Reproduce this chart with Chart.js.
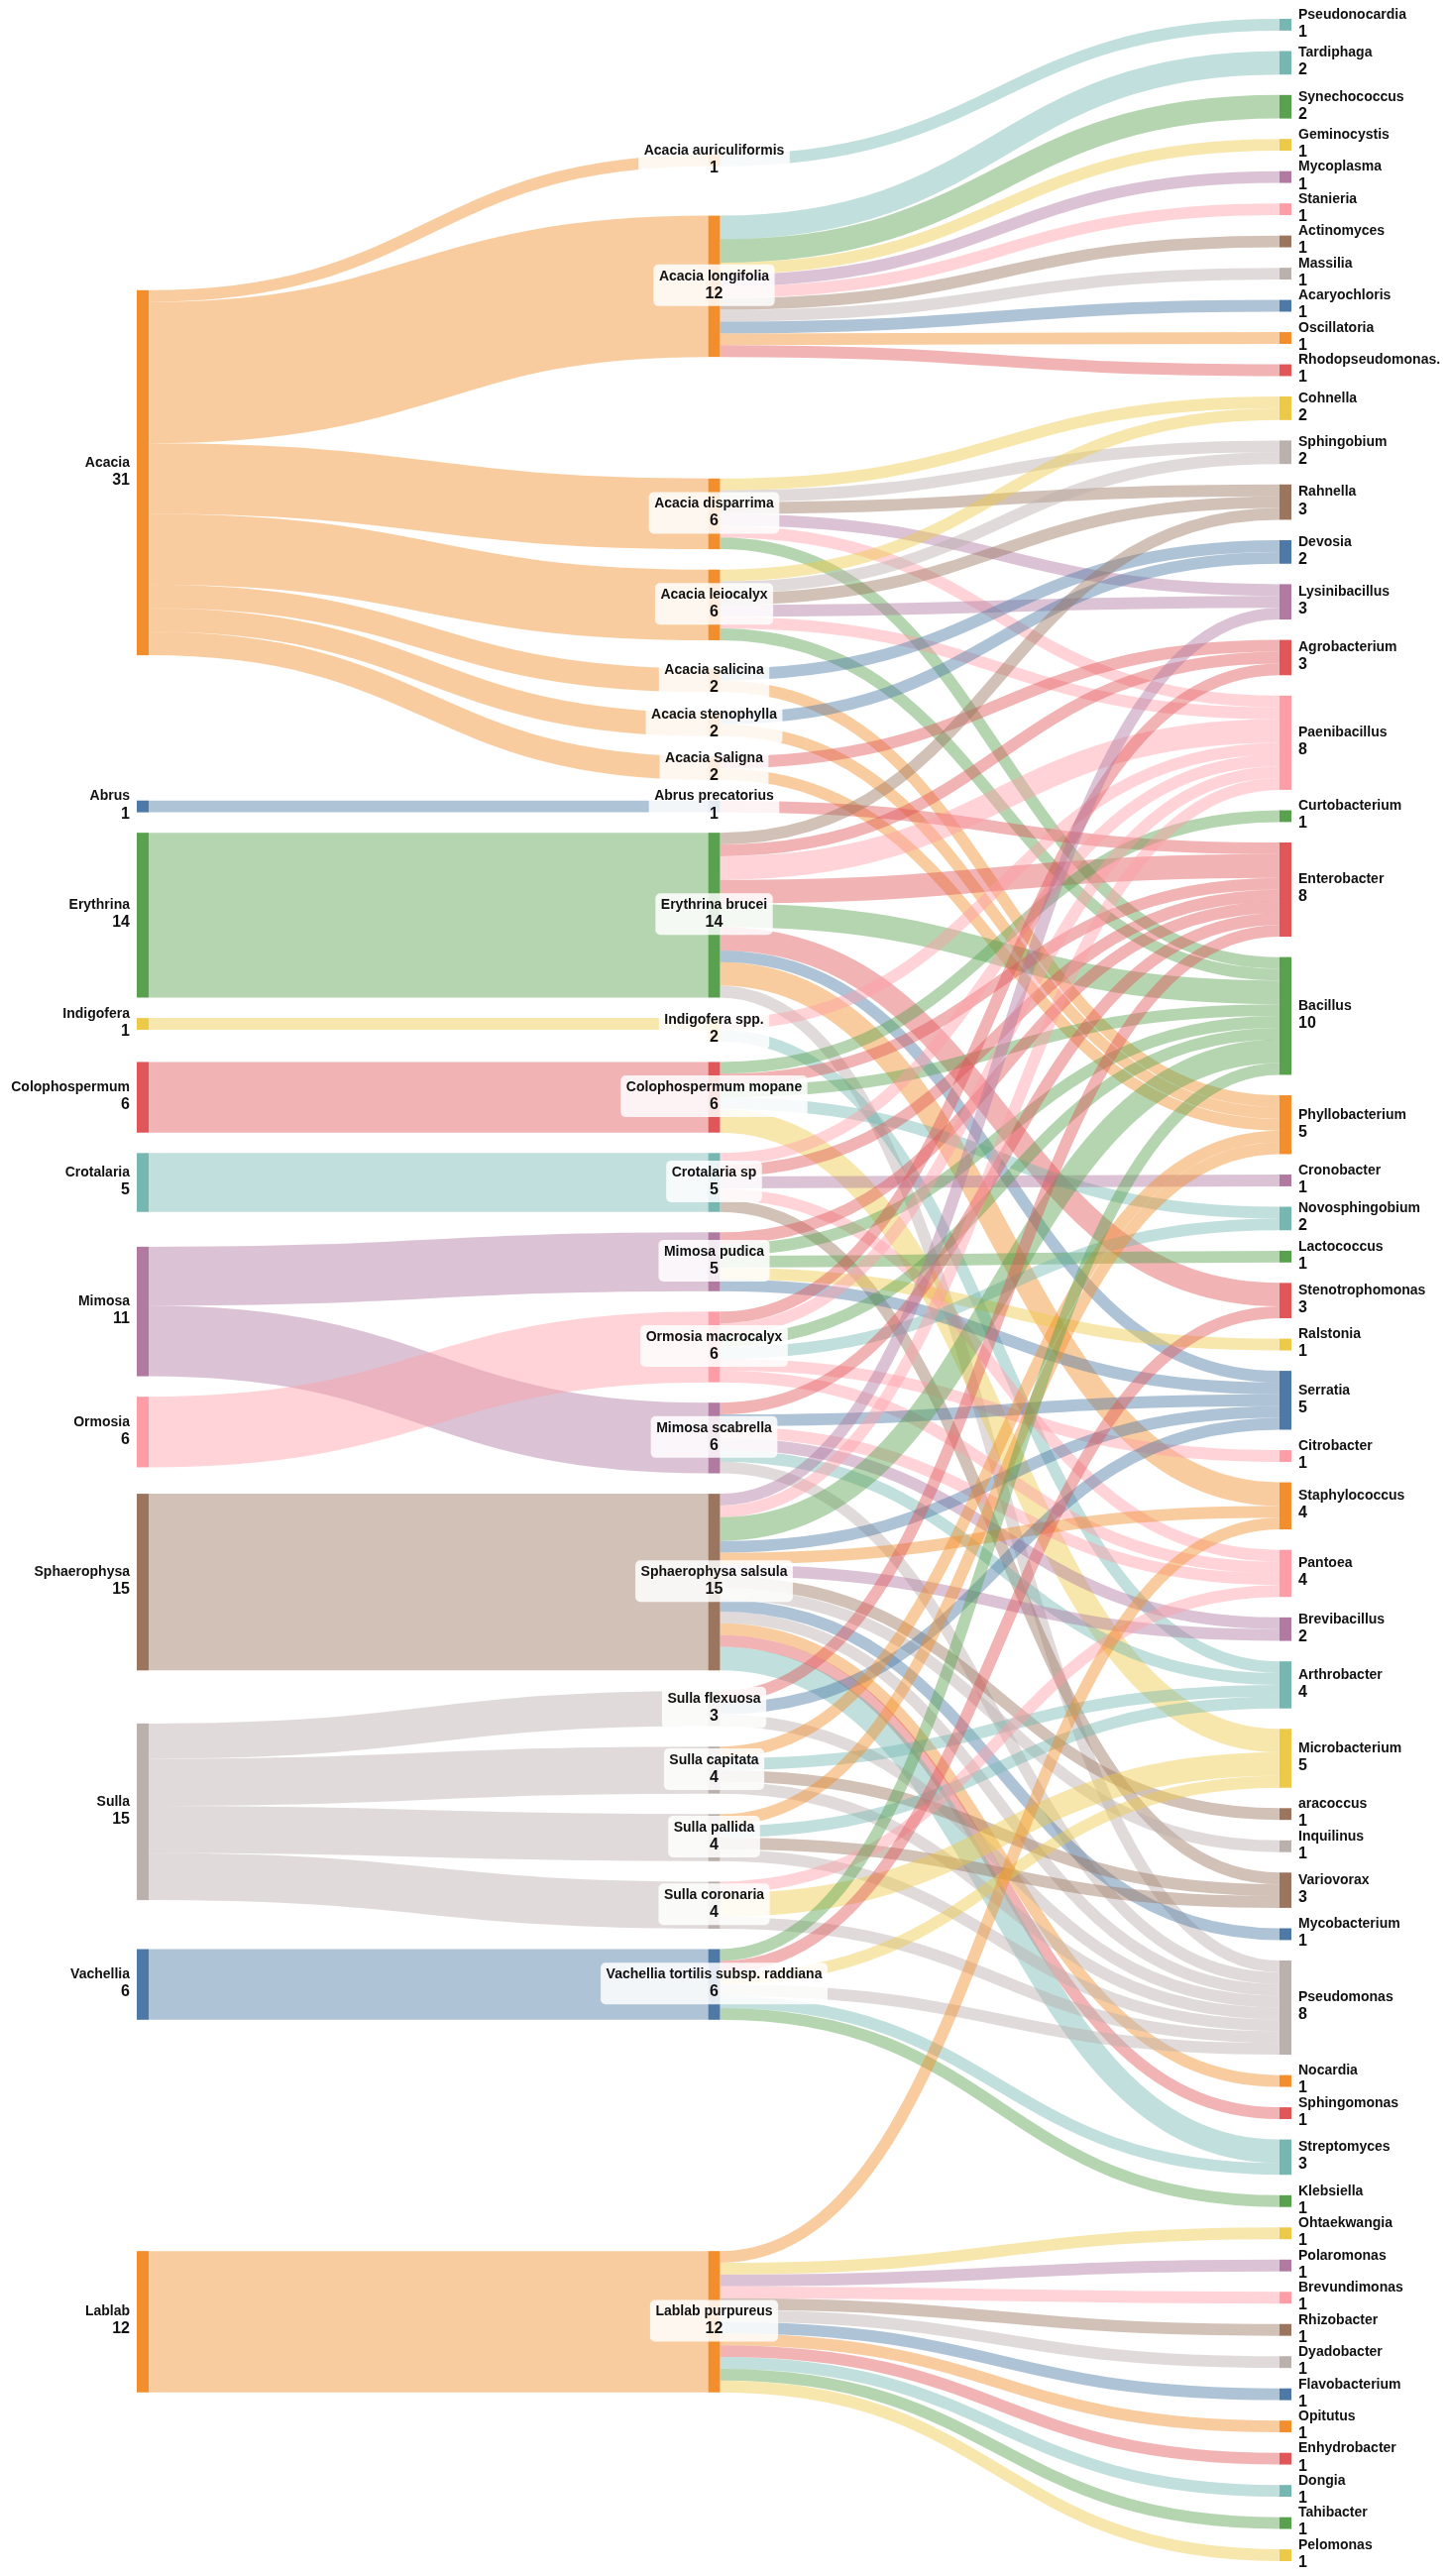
<!DOCTYPE html>
<html>
<head>
<meta charset="utf-8">
<script src="https://cdn.jsdelivr.net/npm/chart.js@4.4.1/dist/chart.umd.min.js"></script>
<style>
  html, body { margin: 0; padding: 0; background: #fff; }
  #wrap { width: 1462px; height: 2599px; }
</style>
</head>
<body>
<div id="wrap"><canvas id="sankey" width="1462" height="2599"></canvas></div>
<script>
// Column 1: plant genera
const genera = ['Acacia', 'Abrus', 'Erythrina', 'Indigofera', 'Colophospermum', 'Crotalaria',
  'Mimosa', 'Ormosia', 'Sphaerophysa', 'Sulla', 'Vachellia', 'Lablab'];

// Column 2: plant species
const species = ['Acacia auriculiformis', 'Acacia longifolia', 'Acacia disparrima', 'Acacia leiocalyx',
  'Acacia salicina', 'Acacia stenophylla', 'Acacia Saligna', 'Abrus precatorius', 'Erythrina brucei',
  'Indigofera spp.', 'Colophospermum mopane', 'Crotalaria sp', 'Mimosa pudica', 'Ormosia macrocalyx',
  'Mimosa scabrella', 'Sphaerophysa salsula', 'Sulla flexuosa', 'Sulla capitata', 'Sulla pallida',
  'Sulla coronaria', 'Vachellia tortilis subsp. raddiana', 'Lablab purpureus'];

// Column 3: bacterial genera
const bacteria = ['Pseudonocardia', 'Tardiphaga', 'Synechococcus', 'Geminocystis', 'Mycoplasma', 'Stanieria',
  'Actinomyces', 'Massilia', 'Acaryochloris', 'Oscillatoria', 'Rhodopseudomonas.', 'Cohnella', 'Sphingobium',
  'Rahnella', 'Devosia', 'Lysinibacillus', 'Agrobacterium', 'Paenibacillus', 'Curtobacterium', 'Enterobacter',
  'Bacillus', 'Phyllobacterium', 'Cronobacter', 'Novosphingobium', 'Lactococcus', 'Stenotrophomonas',
  'Ralstonia', 'Serratia', 'Citrobacter', 'Staphylococcus', 'Pantoea', 'Brevibacillus', 'Arthrobacter',
  'Microbacterium', 'aracoccus', 'Inquilinus', 'Variovorax', 'Mycobacterium', 'Pseudomonas', 'Nocardia',
  'Sphingomonas', 'Streptomyces', 'Klebsiella', 'Ohtaekwangia', 'Polaromonas', 'Brevundimonas', 'Rhizobacter',
  'Dyadobacter', 'Flavobacterium', 'Opitutus', 'Enhydrobacter', 'Dongia', 'Tahibacter', 'Pelomonas'];

// genus -> species
const plantLinks = [
  ['Acacia', 'Acacia auriculiformis', 1], ['Acacia', 'Acacia longifolia', 12],
  ['Acacia', 'Acacia disparrima', 6], ['Acacia', 'Acacia leiocalyx', 6],
  ['Acacia', 'Acacia salicina', 2], ['Acacia', 'Acacia stenophylla', 2], ['Acacia', 'Acacia Saligna', 2],
  ['Abrus', 'Abrus precatorius', 1], ['Erythrina', 'Erythrina brucei', 14],
  ['Indigofera', 'Indigofera spp.', 1], ['Colophospermum', 'Colophospermum mopane', 6],
  ['Crotalaria', 'Crotalaria sp', 5], ['Mimosa', 'Mimosa pudica', 5], ['Mimosa', 'Mimosa scabrella', 6],
  ['Ormosia', 'Ormosia macrocalyx', 6], ['Sphaerophysa', 'Sphaerophysa salsula', 15],
  ['Sulla', 'Sulla flexuosa', 3], ['Sulla', 'Sulla capitata', 4], ['Sulla', 'Sulla pallida', 4],
  ['Sulla', 'Sulla coronaria', 4], ['Vachellia', 'Vachellia tortilis subsp. raddiana', 6],
  ['Lablab', 'Lablab purpureus', 12]
];

// species -> bacteria
const microbeLinks = [
  ['Acacia auriculiformis', 'Pseudonocardia', 1],
  ['Acacia longifolia', 'Tardiphaga', 2], ['Acacia longifolia', 'Synechococcus', 2],
  ['Acacia longifolia', 'Geminocystis', 1], ['Acacia longifolia', 'Mycoplasma', 1],
  ['Acacia longifolia', 'Stanieria', 1], ['Acacia longifolia', 'Actinomyces', 1],
  ['Acacia longifolia', 'Massilia', 1], ['Acacia longifolia', 'Acaryochloris', 1],
  ['Acacia longifolia', 'Oscillatoria', 1], ['Acacia longifolia', 'Rhodopseudomonas.', 1],
  ['Acacia disparrima', 'Cohnella', 1], ['Acacia disparrima', 'Sphingobium', 1],
  ['Acacia disparrima', 'Rahnella', 1], ['Acacia disparrima', 'Lysinibacillus', 1],
  ['Acacia disparrima', 'Paenibacillus', 1], ['Acacia disparrima', 'Bacillus', 1],
  ['Acacia leiocalyx', 'Cohnella', 1], ['Acacia leiocalyx', 'Sphingobium', 1],
  ['Acacia leiocalyx', 'Rahnella', 1], ['Acacia leiocalyx', 'Lysinibacillus', 1],
  ['Acacia leiocalyx', 'Paenibacillus', 1], ['Acacia leiocalyx', 'Bacillus', 1],
  ['Acacia salicina', 'Devosia', 1], ['Acacia salicina', 'Phyllobacterium', 1],
  ['Acacia stenophylla', 'Devosia', 1], ['Acacia stenophylla', 'Phyllobacterium', 1],
  ['Acacia Saligna', 'Agrobacterium', 1], ['Acacia Saligna', 'Phyllobacterium', 1],
  ['Abrus precatorius', 'Enterobacter', 1],
  ['Erythrina brucei', 'Rahnella', 1], ['Erythrina brucei', 'Agrobacterium', 1],
  ['Erythrina brucei', 'Paenibacillus', 2], ['Erythrina brucei', 'Enterobacter', 2],
  ['Erythrina brucei', 'Bacillus', 2], ['Erythrina brucei', 'Stenotrophomonas', 2],
  ['Erythrina brucei', 'Serratia', 1], ['Erythrina brucei', 'Staphylococcus', 2],
  ['Erythrina brucei', 'Pseudomonas', 1],
  ['Indigofera spp.', 'Paenibacillus', 1], ['Indigofera spp.', 'Arthrobacter', 1],
  ['Colophospermum mopane', 'Curtobacterium', 1], ['Colophospermum mopane', 'Enterobacter', 1],
  ['Colophospermum mopane', 'Bacillus', 1], ['Colophospermum mopane', 'Novosphingobium', 1],
  ['Colophospermum mopane', 'Microbacterium', 2],
  ['Crotalaria sp', 'Paenibacillus', 1], ['Crotalaria sp', 'Enterobacter', 1],
  ['Crotalaria sp', 'Cronobacter', 1], ['Crotalaria sp', 'Pantoea', 1], ['Crotalaria sp', 'Variovorax', 1],
  ['Mimosa pudica', 'Enterobacter', 1], ['Mimosa pudica', 'Bacillus', 1], ['Mimosa pudica', 'Lactococcus', 1],
  ['Mimosa pudica', 'Ralstonia', 1], ['Mimosa pudica', 'Serratia', 1],
  ['Ormosia macrocalyx', 'Agrobacterium', 1], ['Ormosia macrocalyx', 'Paenibacillus', 1],
  ['Ormosia macrocalyx', 'Bacillus', 1], ['Ormosia macrocalyx', 'Novosphingobium', 1],
  ['Ormosia macrocalyx', 'Citrobacter', 1], ['Ormosia macrocalyx', 'Pantoea', 1],
  ['Mimosa scabrella', 'Enterobacter', 1], ['Mimosa scabrella', 'Serratia', 1],
  ['Mimosa scabrella', 'Pantoea', 1], ['Mimosa scabrella', 'Brevibacillus', 1],
  ['Mimosa scabrella', 'Arthrobacter', 1], ['Mimosa scabrella', 'Pseudomonas', 1],
  ['Sphaerophysa salsula', 'Lysinibacillus', 1], ['Sphaerophysa salsula', 'Paenibacillus', 1],
  ['Sphaerophysa salsula', 'Bacillus', 2], ['Sphaerophysa salsula', 'Serratia', 1],
  ['Sphaerophysa salsula', 'Staphylococcus', 1], ['Sphaerophysa salsula', 'Brevibacillus', 1],
  ['Sphaerophysa salsula', 'aracoccus', 1], ['Sphaerophysa salsula', 'Inquilinus', 1],
  ['Sphaerophysa salsula', 'Mycobacterium', 1], ['Sphaerophysa salsula', 'Pseudomonas', 1],
  ['Sphaerophysa salsula', 'Nocardia', 1], ['Sphaerophysa salsula', 'Sphingomonas', 1],
  ['Sphaerophysa salsula', 'Streptomyces', 2],
  ['Sulla flexuosa', 'Enterobacter', 1], ['Sulla flexuosa', 'Serratia', 1], ['Sulla flexuosa', 'Pseudomonas', 1],
  ['Sulla capitata', 'Phyllobacterium', 1], ['Sulla capitata', 'Arthrobacter', 1],
  ['Sulla capitata', 'Variovorax', 1], ['Sulla capitata', 'Pseudomonas', 1],
  ['Sulla pallida', 'Phyllobacterium', 1], ['Sulla pallida', 'Arthrobacter', 1],
  ['Sulla pallida', 'Variovorax', 1], ['Sulla pallida', 'Pseudomonas', 1],
  ['Sulla coronaria', 'Pantoea', 1], ['Sulla coronaria', 'Microbacterium', 2], ['Sulla coronaria', 'Pseudomonas', 1],
  ['Vachellia tortilis subsp. raddiana', 'Bacillus', 1], ['Vachellia tortilis subsp. raddiana', 'Stenotrophomonas', 1],
  ['Vachellia tortilis subsp. raddiana', 'Microbacterium', 1], ['Vachellia tortilis subsp. raddiana', 'Pseudomonas', 1],
  ['Vachellia tortilis subsp. raddiana', 'Streptomyces', 1], ['Vachellia tortilis subsp. raddiana', 'Klebsiella', 1],
  ['Lablab purpureus', 'Staphylococcus', 1], ['Lablab purpureus', 'Ohtaekwangia', 1],
  ['Lablab purpureus', 'Polaromonas', 1], ['Lablab purpureus', 'Brevundimonas', 1],
  ['Lablab purpureus', 'Rhizobacter', 1], ['Lablab purpureus', 'Dyadobacter', 1],
  ['Lablab purpureus', 'Flavobacterium', 1], ['Lablab purpureus', 'Opitutus', 1],
  ['Lablab purpureus', 'Enhydrobacter', 1], ['Lablab purpureus', 'Dongia', 1],
  ['Lablab purpureus', 'Tahibacter', 1], ['Lablab purpureus', 'Pelomonas', 1]
];

// Tableau 10 colours, per node
const T10 = {
  blue: '#4e79a7', orange: '#f28e2b', red: '#e15759', teal: '#76b7b2', green: '#59a14f',
  yellow: '#edc948', purple: '#b07aa1', pink: '#ff9da7', brown: '#9c755f', gray: '#bab0ac'
};
const colorNames = {
  Acacia: 'orange', Abrus: 'blue', Erythrina: 'green', Indigofera: 'yellow', Colophospermum: 'red',
  Crotalaria: 'teal', Mimosa: 'purple', Ormosia: 'pink', Sphaerophysa: 'brown', Sulla: 'gray',
  Vachellia: 'blue', Lablab: 'orange',
  'Acacia auriculiformis': 'orange', 'Acacia longifolia': 'orange', 'Acacia disparrima': 'orange',
  'Acacia leiocalyx': 'orange', 'Acacia salicina': 'orange', 'Acacia stenophylla': 'orange',
  'Acacia Saligna': 'orange', 'Abrus precatorius': 'blue', 'Erythrina brucei': 'green',
  'Indigofera spp.': 'yellow', 'Colophospermum mopane': 'red', 'Crotalaria sp': 'teal',
  'Mimosa pudica': 'purple', 'Ormosia macrocalyx': 'pink', 'Mimosa scabrella': 'purple',
  'Sphaerophysa salsula': 'brown', 'Sulla flexuosa': 'gray', 'Sulla capitata': 'gray',
  'Sulla pallida': 'gray', 'Sulla coronaria': 'gray', 'Vachellia tortilis subsp. raddiana': 'blue',
  'Lablab purpureus': 'orange',
  Pseudonocardia: 'teal', Tardiphaga: 'teal', Synechococcus: 'green', Geminocystis: 'yellow',
  Mycoplasma: 'purple', Stanieria: 'pink', Actinomyces: 'brown', Massilia: 'gray', Acaryochloris: 'blue',
  Oscillatoria: 'orange', 'Rhodopseudomonas.': 'red', Cohnella: 'yellow', Sphingobium: 'gray',
  Rahnella: 'brown', Devosia: 'blue', Lysinibacillus: 'purple', Agrobacterium: 'red', Paenibacillus: 'pink',
  Curtobacterium: 'green', Enterobacter: 'red', Bacillus: 'green', Phyllobacterium: 'orange',
  Cronobacter: 'purple', Novosphingobium: 'teal', Lactococcus: 'green', Stenotrophomonas: 'red',
  Ralstonia: 'yellow', Serratia: 'blue', Citrobacter: 'pink', Staphylococcus: 'orange', Pantoea: 'pink',
  Brevibacillus: 'purple', Arthrobacter: 'teal', Microbacterium: 'yellow', aracoccus: 'brown',
  Inquilinus: 'gray', Variovorax: 'brown', Mycobacterium: 'blue', Pseudomonas: 'gray', Nocardia: 'orange',
  Sphingomonas: 'red', Streptomyces: 'teal', Klebsiella: 'green', Ohtaekwangia: 'yellow',
  Polaromonas: 'purple', Brevundimonas: 'pink', Rhizobacter: 'brown', Dyadobacter: 'gray',
  Flavobacterium: 'blue', Opitutus: 'orange', Enhydrobacter: 'red', Dongia: 'teal', Tahibacter: 'green',
  Pelomonas: 'yellow'
};

const NODE_PAD = 1.734;   // gap between nodes, in flow units
const NODE_W = 12;        // node bar width in px
const LINK_ALPHA = 0.45;
const ITERATIONS = 32;

// Sankey layout: every node is pulled toward the spot where its links
// (in and out) run level; overlaps removed by a balanced push, order kept.
function sankeyLayout(cols, flows, py, iterations) {
  const byName = {};
  const columns = cols.map((names, col) => names.map(name => {
    const n = { name, col, sourceLinks: [], targetLinks: [] };
    byName[name] = n;
    return n;
  }));
  const links = flows.map(([s, t, v], index) => {
    const l = { source: byName[s], target: byName[t], value: v, index };
    l.source.sourceLinks.push(l);
    l.target.targetLinks.push(l);
    return l;
  });
  const sum = arr => arr.reduce((a, l) => a + l.value, 0);
  const all = columns.flat();
  all.forEach(n => { n.value = Math.max(sum(n.sourceLinks), sum(n.targetLinks)); });

  const height = Math.max(...columns.map(c => sum(c) + (c.length - 1) * py));
  const y0 = 0, y1 = height;
  const ky = Math.min(...columns.map(c => (y1 - y0 - (c.length - 1) * py) / sum(c)));

  const byBreadth = (a, b) => a.y0 - b.y0;
  const byTarget = (a, b) => byBreadth(a.target, b.target) || a.index - b.index;
  const bySource = (a, b) => byBreadth(a.source, b.source) || a.index - b.index;
  function reorderNodeLinks(node) {
    node.targetLinks.forEach(l => l.source.sourceLinks.sort(byTarget));
    node.sourceLinks.forEach(l => l.target.targetLinks.sort(bySource));
  }

  columns.forEach(nodes => {
    let y = y0;
    nodes.forEach(n => {
      n.y0 = y;
      n.y1 = y + n.value * ky;
      y = n.y1 + py;
      n.sourceLinks.forEach(l => { l.width = l.value * ky; });
    });
    y = (y1 - y + py) / (nodes.length + 1);
    nodes.forEach((n, i) => { n.y0 += y * (i + 1); n.y1 += y * (i + 1); });
  });
  all.forEach(n => { n.sourceLinks.sort(byTarget); n.targetLinks.sort(bySource); });

  const slotOut = l => {            // offset of link l inside its source node
    let y = 0;
    for (const m of l.source.sourceLinks) { if (m === l) break; y += m.width; }
    return y;
  };
  const slotIn = l => {             // offset of link l inside its target node
    let y = 0;
    for (const m of l.target.targetLinks) { if (m === l) break; y += m.width; }
    return y;
  };

  function relax(nodes, alpha) {
    nodes.forEach(n => {
      let y = 0, w = 0;
      n.targetLinks.forEach(l => { y += (l.source.y0 + slotOut(l) - slotIn(l)) * l.value; w += l.value; });
      n.sourceLinks.forEach(l => { y += (l.target.y0 + slotIn(l) - slotOut(l)) * l.value; w += l.value; });
      if (!(w > 0)) return;
      const dy = (y / w - n.y0) * alpha;
      n.y0 += dy; n.y1 += dy;
      reorderNodeLinks(n);
    });
  }

  // isotonic (pool adjacent violators) fit of node tops, keeping order and gaps
  function resolveCollisions(nodes) {
    let off = 0;
    const z = nodes.map(n => {
      const v = n.y0 - off;
      off += (n.y1 - n.y0) + py;
      return v;
    });
    const total = off - py;
    const blocks = [];
    nodes.forEach((n, i) => {
      blocks.push({ v: z[i], w: n.value, from: i, to: i });
      while (blocks.length > 1 && blocks[blocks.length - 2].v > blocks[blocks.length - 1].v) {
        const b = blocks.pop(), a = blocks.pop();
        blocks.push({ v: (a.v * a.w + b.v * b.w) / (a.w + b.w), w: a.w + b.w, from: a.from, to: b.to });
      }
    });
    const lo = y0, hi = y1 - total;
    blocks.forEach(b => {
      const v = Math.min(hi, Math.max(lo, b.v));
      for (let i = b.from; i <= b.to; i++) z[i] = v;
    });
    off = 0;
    nodes.forEach((n, i) => {
      const h = n.y1 - n.y0;
      n.y0 = z[i] + off;
      n.y1 = n.y0 + h;
      off += h + py;
    });
  }

  for (let it = 0; it < iterations; ++it) {
    const alpha = Math.pow(0.99, it);
    for (let i = columns.length - 1; i >= 0; --i) { relax(columns[i], alpha); resolveCollisions(columns[i]); }
    for (let i = 0; i < columns.length; ++i) { relax(columns[i], alpha); resolveCollisions(columns[i]); }
  }

  all.forEach(n => { n.sourceLinks.sort(byTarget); n.targetLinks.sort(bySource); });
  all.forEach(n => {
    let a = n.y0, b = n.y0;
    n.sourceLinks.forEach(l => { l.y0 = a + l.width / 2; a += l.width; });
    n.targetLinks.forEach(l => { l.y1 = b + l.width / 2; b += l.width; });
  });
  return { nodes: all, links, height, lastCol: columns.length - 1 };
}

const graph = sankeyLayout([genera, species, bacteria], plantLinks.concat(microbeLinks), NODE_PAD, ITERATIONS);

function rgba(hex, a) {
  const v = parseInt(hex.slice(1), 16);
  return `rgba(${(v >> 16) & 255}, ${(v >> 8) & 255}, ${v & 255}, ${a})`;
}
const colorOf = name => T10[colorNames[name]] || T10.gray;

const NAME_FONT = 'bold 14px "Liberation Sans", Arial, Helvetica, sans-serif';
const VALUE_FONT = 'bold 16px "Liberation Sans", Arial, Helvetica, sans-serif';

const sankeyPlugin = {
  id: 'sankeyDraw',
  afterDatasetsDraw(chart) {
    const ctx = chart.ctx;
    const xs = chart.scales.x, ys = chart.scales.y;
    const unit = Math.abs(ys.getPixelForValue(1) - ys.getPixelForValue(0));
    ctx.save();

    // links
    graph.links.forEach(l => {
      const sx = xs.getPixelForValue(l.source.col) + NODE_W / 2;
      const tx = xs.getPixelForValue(l.target.col) - NODE_W / 2;
      const sy = ys.getPixelForValue(l.y0), ty = ys.getPixelForValue(l.y1);
      const mx = (sx + tx) / 2;
      ctx.beginPath();
      ctx.moveTo(sx, sy);
      ctx.bezierCurveTo(mx, sy, mx, ty, tx, ty);
      ctx.strokeStyle = rgba(colorOf(l.target.name), LINK_ALPHA);
      ctx.lineWidth = Math.max(1, l.width * unit);
      ctx.lineCap = 'butt';
      ctx.stroke();
    });

    // nodes
    graph.nodes.forEach(n => {
      const cx = xs.getPixelForValue(n.col);
      const top = ys.getPixelForValue(n.y0), bottom = ys.getPixelForValue(n.y1);
      ctx.fillStyle = colorOf(n.name);
      ctx.fillRect(cx - NODE_W / 2, top, NODE_W, bottom - top);
    });

    // labels
    ctx.textBaseline = 'middle';
    graph.nodes.forEach(n => {
      const cx = xs.getPixelForValue(n.col);
      const cy = (ys.getPixelForValue(n.y0) + ys.getPixelForValue(n.y1)) / 2;
      const value = String(n.value);
      let x, align;
      if (n.col === 0) { x = cx - NODE_W / 2 - 7; align = 'right'; }
      else if (n.col === graph.lastCol) { x = cx + NODE_W / 2 + 7; align = 'left'; }
      else {
        x = cx; align = 'center';
        ctx.font = NAME_FONT;
        const w1 = ctx.measureText(n.name).width;
        ctx.font = VALUE_FONT;
        const w2 = ctx.measureText(value).width;
        const bw = Math.max(w1, w2) + 11, bh = 42;
        ctx.fillStyle = 'rgba(255, 255, 255, 0.85)';
        ctx.beginPath();
        ctx.roundRect(cx - bw / 2, cy - bh / 2 - 1, bw, bh, 5);
        ctx.fill();
      }
      ctx.textAlign = align;
      ctx.fillStyle = '#111111';
      ctx.font = NAME_FONT;
      ctx.fillText(n.name, x, cy - 10);
      ctx.font = VALUE_FONT;
      ctx.fillText(value, x, cy + 7.5);
    });
    ctx.restore();
  }
};

new Chart(document.getElementById('sankey'), {
  type: 'scatter',
  data: { datasets: [{ data: [], pointRadius: 0 }] },
  options: {
    responsive: false,
    devicePixelRatio: 1,
    animation: false,
    events: [],
    layout: { padding: { left: 144, right: 165, top: 19, bottom: 15 } },
    scales: {
      x: { type: 'linear', min: 0, max: 2, display: false },
      y: { type: 'linear', min: 0, max: graph.height, reverse: true, display: false }
    },
    plugins: { legend: { display: false }, tooltip: { enabled: false }, title: { display: false } }
  },
  plugins: [sankeyPlugin]
});
</script>
</body>
</html>
